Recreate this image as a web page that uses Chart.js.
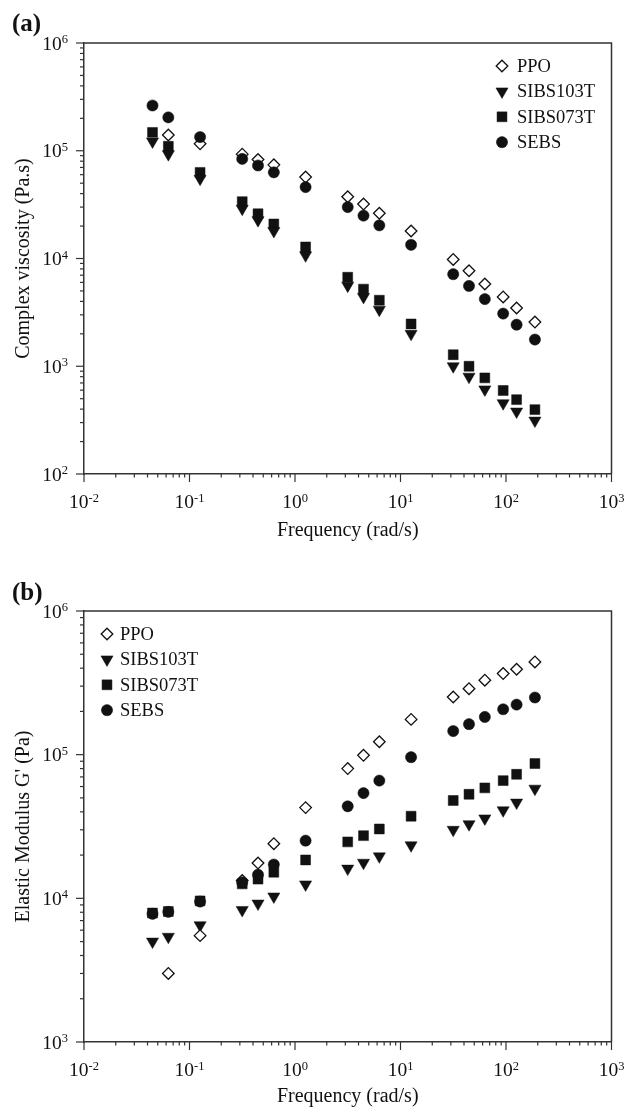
<!DOCTYPE html>
<html>
<head>
<meta charset="utf-8">
<script src="https://cdn.jsdelivr.net/npm/chart.js@4.4.0/dist/chart.umd.min.js"></script>
<style>
html, body { margin: 0; padding: 0; background: #fff; }
#wrap { position: relative; width: 627px; height: 1109px; }
.box { position: absolute; left: 0; width: 627px; }
</style>
</head>
<body>
<div id="wrap">
  <div class="box" style="top:0;height:555px"><canvas id="chartA"></canvas></div>
  <div class="box" style="top:555px;height:554px"><canvas id="chartB"></canvas></div>
</div>
<script>
// frequency (rad/s), shared by both panels
const frequency = [0.0446, 0.063, 0.126, 0.316, 0.446, 0.63, 1.26, 3.16, 4.46, 6.3, 12.6, 31.6, 44.6, 63, 94, 126, 188];

// (a) complex viscosity (Pa.s)
const ppoViscosity      = [null, 1.4e5, 1.16e5, 9.3e4, 8.3e4, 7.4e4, 5.7e4, 3.74e4, 3.2e4, 2.63e4, 1.8e4, 9.8e3, 7.7e3, 5.8e3, 4.4e3, 3.47e3, 2.57e3];
const sibs103Viscosity  = [1.22e5, 9.3e4, 5.5e4, 2.9e4, 2.27e4, 1.8e4, 1.07e4, 5.6e3, 4.4e3, 3.35e3, 2.0e3, 1.0e3, 800, 610, 454, 380, 313];
const sibs073Viscosity  = [1.48e5, 1.1e5, 6.3e4, 3.37e4, 2.6e4, 2.09e4, 1.28e4, 6.7e3, 5.2e3, 4.1e3, 2.47e3, 1.28e3, 1.0e3, 780, 596, 490, 396];
const sebsViscosity     = [2.63e5, 2.04e5, 1.34e5, 8.4e4, 7.3e4, 6.3e4, 4.6e4, 3.0e4, 2.5e4, 2.03e4, 1.34e4, 7.15e3, 5.56e3, 4.2e3, 3.08e3, 2.43e3, 1.77e3];

// (b) elastic modulus G' (Pa)
const ppoModulus      = [null, 3.0e3, 5.5e3, 1.33e4, 1.76e4, 2.4e4, 4.28e4, 8.0e4, 9.9e4, 1.23e5, 1.76e5, 2.52e5, 2.88e5, 3.3e5, 3.67e5, 3.93e5, 4.42e5];
const sibs103Modulus  = [5.0e3, 5.4e3, 6.5e3, 8.3e3, 9.2e3, 1.03e4, 1.25e4, 1.61e4, 1.77e4, 1.96e4, 2.34e4, 3.0e4, 3.28e4, 3.6e4, 4.1e4, 4.64e4, 5.8e4];
const sibs073Modulus  = [7.9e3, 8.1e3, 9.6e3, 1.26e4, 1.36e4, 1.52e4, 1.85e4, 2.47e4, 2.73e4, 3.04e4, 3.73e4, 4.8e4, 5.3e4, 5.87e4, 6.6e4, 7.3e4, 8.67e4];
const sebsModulus     = [7.8e3, 8.05e3, 9.5e3, 1.29e4, 1.46e4, 1.72e4, 2.52e4, 4.37e4, 5.4e4, 6.6e4, 9.6e4, 1.46e5, 1.63e5, 1.83e5, 2.07e5, 2.23e5, 2.5e5];

const seriesNames = ['PPO', 'SIBS103T', 'SIBS073T', 'SEBS'];

const serif = '"Liberation Serif", "Times New Roman", serif';
const ink = '#111';

const markers = [
  { pointStyle: 'rectRot',  pointRadius: 5.8, pointRotation: 0,   backgroundColor: '#fff', borderColor: ink, borderWidth: 1.3, order: 2 },
  { pointStyle: 'triangle', pointRadius: 7,   pointRotation: 180, backgroundColor: ink,    borderColor: ink, borderWidth: 0.5, order: 3 },
  { pointStyle: 'rect',     pointRadius: 7,   pointRotation: 0,   backgroundColor: ink,    borderColor: ink, borderWidth: 0.5, order: 4 },
  { pointStyle: 'circle',   pointRadius: 5.6, pointRotation: 0,   backgroundColor: ink,    borderColor: ink, borderWidth: 0.5, order: 1 }
];

function points(values) {
  return frequency.map((f, i) => ({ x: f, y: values[i] })).filter(p => p.y !== null);
}

function logTicks(min, max) {
  const out = [];
  for (let e = Math.round(Math.log10(min)); e < Math.round(Math.log10(max)); e++) {
    for (let m = 1; m <= 9; m++) out.push({ v: m * Math.pow(10, e), major: m === 1, exp: e });
  }
  out.push({ v: max, major: true, exp: Math.round(Math.log10(max)) });
  return out;
}

// "10" with a raised exponent
function drawPower(ctx, exp, x, baseline, align) {
  ctx.font = '19.5px ' + serif;
  const w1 = ctx.measureText('10').width;
  ctx.font = '12.5px ' + serif;
  const w2 = ctx.measureText(String(exp)).width;
  const left = align === 'center' ? x - (w1 + w2) / 2 : x - (w1 + w2);
  ctx.textAlign = 'left';
  ctx.textBaseline = 'alphabetic';
  ctx.font = '19.5px ' + serif;
  ctx.fillText('10', left, baseline);
  ctx.font = '12.5px ' + serif;
  ctx.fillText(String(exp), left + w1, baseline - 6.5);
}

const decoration = {
  id: 'decoration',
  afterDraw(chart, args, opts) {
    const ctx = chart.ctx, a = chart.chartArea;
    const xs = chart.scales.x, ys = chart.scales.y;
    ctx.save();
    ctx.strokeStyle = '#333';
    ctx.lineWidth = 1.5;
    ctx.beginPath();
    ctx.moveTo(a.left, a.top);
    ctx.lineTo(a.right, a.top);
    ctx.lineTo(a.right, a.bottom);
    ctx.stroke();

    ctx.lineWidth = 1.2;
    ctx.fillStyle = ink;
    logTicks(xs.min, xs.max).forEach(t => {
      const px = xs.getPixelForValue(t.v);
      ctx.beginPath();
      ctx.moveTo(px, a.bottom);
      ctx.lineTo(px, a.bottom + (t.major ? 8 : 3.5));
      ctx.stroke();
      if (t.major) drawPower(ctx, t.exp, px, a.bottom + 34, 'center');
    });
    logTicks(ys.min, ys.max).forEach(t => {
      const py = ys.getPixelForValue(t.v);
      ctx.beginPath();
      ctx.moveTo(a.left, py);
      ctx.lineTo(a.left - (t.major ? 8 : 4), py);
      ctx.stroke();
      if (t.major) drawPower(ctx, t.exp, 68, py + 6.5, 'right');
    });

    // legend
    ctx.font = '18.5px ' + serif;
    ctx.textBaseline = 'middle';
    ctx.textAlign = 'left';
    seriesNames.forEach((name, i) => {
      const m = markers[i];
      const y = opts.legendY + i * opts.legendStep;
      ctx.fillStyle = m.backgroundColor;
      ctx.strokeStyle = m.borderColor;
      ctx.lineWidth = m.borderWidth;
      Chart.helpers.drawPoint(ctx, {
        pointStyle: m.pointStyle, rotation: m.pointRotation,
        radius: m.pointRadius, borderWidth: m.borderWidth
      }, opts.legendX, y);
      ctx.fillStyle = ink;
      ctx.font = '18.5px ' + serif;
      ctx.fillText(name, opts.legendX + opts.textGap, y + 1);
    });

    // panel label
    ctx.font = 'bold 25px ' + serif;
    ctx.fillStyle = ink;
    ctx.textBaseline = 'middle';
    ctx.fillText(opts.panel, 12, opts.panelY);
    ctx.restore();
  }
};

function makeChart(id, data, cfg) {
  const datasets = data.map((vals, i) => Object.assign({
    label: seriesNames[i],
    data: points(vals),
    showLine: false
  }, markers[i]));

  return new Chart(document.getElementById(id), {
    type: 'scatter',
    data: { datasets: datasets },
    plugins: [decoration],
    options: {
      responsive: true,
      maintainAspectRatio: false,
      animation: false,
      layout: { padding: { top: cfg.padTop, right: 15.5, left: 0, bottom: 0 } },
      plugins: {
        legend: { display: false },
        tooltip: { enabled: false },
        decoration: cfg.deco
      },
      scales: {
        x: {
          type: 'logarithmic', min: 0.01, max: 1000, position: 'bottom',
          border: { color: '#333', width: 1.5 },
          grid: { drawOnChartArea: false, drawTicks: false },
          ticks: { autoSkip: false, maxRotation: 0, callback: () => '' },
          title: { display: true, text: 'Frequency (rad/s)', color: ink,
                   font: { family: serif, size: 20 }, padding: { top: 0, bottom: cfg.xTitlePad } },
          afterFit: s => { s.height = cfg.xHeight; }
        },
        y: {
          type: 'logarithmic', min: cfg.yMin, max: cfg.yMax, position: 'left',
          border: { color: '#333', width: 1.5 },
          grid: { drawOnChartArea: false, drawTicks: false },
          ticks: { autoSkip: false, callback: () => '' },
          title: { display: true, text: cfg.yTitle, color: ink,
                   font: { family: serif, size: 20 }, padding: { top: 12, bottom: 0 } },
          afterFit: s => { s.width = 84; }
        }
      }
    }
  });
}

makeChart('chartA', [ppoViscosity, sibs103Viscosity, sibs073Viscosity, sebsViscosity], {
  yMin: 100, yMax: 1e6, yTitle: 'Complex viscosity (Pa.s)',
  padTop: 43, xHeight: 81, xTitlePad: 12,
  deco: { panel: '(a)', panelY: 25, legendX: 502, legendY: 66, legendStep: 25.4, textGap: 15 }
});

makeChart('chartB', [ppoModulus, sibs103Modulus, sibs073Modulus, sebsModulus], {
  yMin: 1000, yMax: 1e6, yTitle: "Elastic Modulus G' (Pa)",
  padTop: 56, xHeight: 67, xTitlePad: 0,
  deco: { panel: '(b)', panelY: 39, legendX: 107, legendY: 79, legendStep: 25.4, textGap: 13 }
});
</script>
</body>
</html>
